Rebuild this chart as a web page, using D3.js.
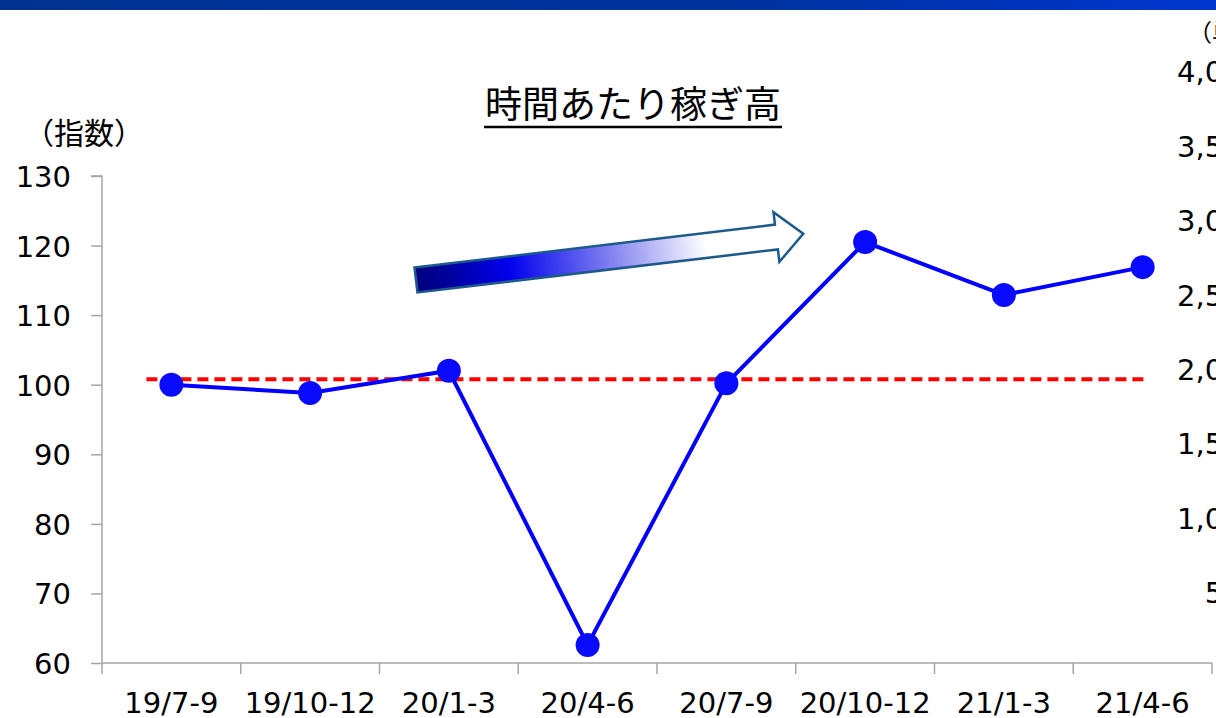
<html>
  <script src='https://d3js.org/d3.v7.min.js'></script>
  <style>
    body {margin: 0; background: white;}
    svg {display: block;}
    .tick text {font-family: 'DejaVu Sans', Verdana, sans-serif;}
  </style>
  <body>
    <svg class="chart" width=1216 height=718></svg>
    <script>
      // data
      var categories = ["19/7-9","19/10-12","20/1-3","20/4-6","20/7-9","20/10-12","21/1-3","21/4-6"];
      var indexValues = [100.0, 98.8, 102.0, 62.6, 100.2, 120.5, 112.9, 116.9];
      var baseline = 100.8;
      var leftTicks = [60,70,80,90,100,110,120,130];
      var rightTicks = [500,1000,1500,2000,2500,3000,3500,4000];
      var title = "時間あたり稼ぎ高";
      var leftUnit = "（指数）";
      var rightUnit = "（単位：百万円）";

      var W = 1216, H = 718;
      var svg = d3.select('.chart');
      var defs = svg.append("defs");

      // top banner
      var bar = defs.append("linearGradient").attr("id","bar").attr("x1","0").attr("x2","1");
      bar.append("stop").attr("offset","0").attr("stop-color","#003391");
      bar.append("stop").attr("offset","0.6").attr("stop-color","#00339e");
      bar.append("stop").attr("offset","1").attr("stop-color","#0035cf");
      svg.append("rect").attr("x",0).attr("y",0).attr("width",W).attr("height",10).attr("fill","url(#bar)");

      var x = d3.scaleBand().domain(categories).range([102,1212]).padding(0);
      var y = d3.scaleLinear().domain([60,130]).range([663,176]);
      var y2 = d3.scaleLinear().domain([0,4000]).range([667,72]);

      // left axis
      var yAxis = d3.axisLeft(y).tickValues(leftTicks).tickSize(11).tickPadding(20);
      var gy = svg.append("g").attr("transform","translate(102,0)").call(yAxis);
      gy.selectAll("path, line").attr("stroke","#a6a6a6").attr("stroke-width",1.5);
      gy.select(".domain").attr("d","M-11,176H0V663");
      gy.selectAll("text").attr("font-size",29).attr("fill","#000").attr("dy","0.36em");

      // x axis
      var xAxis = d3.axisBottom(x).tickSize(0).tickPadding(29);
      var gx = svg.append("g").attr("transform","translate(0,663)").call(xAxis);
      gx.select(".domain").attr("stroke","#a6a6a6").attr("stroke-width",1.5).attr("d","M102,0H1212");
      gx.selectAll("text").attr("font-size",29).attr("fill","#000");
      var edges = categories.map(function(c){return x(c);}).concat([x.range()[1]]);
      svg.append("g").selectAll("line").data(edges).enter().append("line")
        .attr("x1",function(d){return d;}).attr("x2",function(d){return d;})
        .attr("y1",663).attr("y2",674)
        .attr("stroke","#a6a6a6").attr("stroke-width",1.5);

      // right axis (labels only, cut by the frame)
      var gr = svg.append("g");
      gr.selectAll("text").data(rightTicks).enter().append("text")
        .attr("x",1260).attr("y",function(d){return y2(d);}).attr("dy","0.36em")
        .attr("text-anchor","end").attr("font-family","'DejaVu Sans', Verdana, sans-serif")
        .attr("font-size",29).attr("fill","#000")
        .text(function(d){return d3.format(",")(d);});
      svg.append("text").attr("x",1188).attr("y",41)
        .attr("font-family","'Noto Sans CJK JP', sans-serif").attr("font-size",24).attr("fill","#000")
        .text(rightUnit);

      // unit label and title
      svg.append("text").attr("x",24).attr("y",144)
        .attr("font-family","'Noto Sans CJK JP', sans-serif").attr("font-size",30).attr("fill","#000")
        .text(leftUnit);
      svg.append("text").attr("x",633).attr("y",118).attr("text-anchor","middle")
        .attr("font-family","'Noto Sans CJK JP', sans-serif").attr("font-size",37).attr("fill","#000")
        .text(title);
      svg.append("line").attr("x1",484).attr("x2",782).attr("y1",127).attr("y2",127)
        .attr("stroke","#000").attr("stroke-width",2.5);

      // red reference line
      var bw = x.bandwidth();
      svg.append("line")
        .attr("x1",x(categories[0])+bw*0.32).attr("x2",x(categories[categories.length-1])+bw*0.52)
        .attr("y1",y(baseline)).attr("y2",y(baseline))
        .attr("stroke","#ff0000").attr("stroke-width",4).attr("stroke-dasharray","11,6");

      // arrow annotation
      var L = 390;
      var ag = defs.append("linearGradient").attr("id","arrowfill")
        .attr("gradientUnits","userSpaceOnUse").attr("x1",0).attr("x2",L).attr("y1",0).attr("y2",0);
      ag.append("stop").attr("offset","0").attr("stop-color","#000080");
      ag.append("stop").attr("offset","0.08").attr("stop-color","#00009a");
      ag.append("stop").attr("offset","0.24").attr("stop-color","#0000ee");
      ag.append("stop").attr("offset","0.5").attr("stop-color","#8080f0");
      ag.append("stop").attr("offset","0.75").attr("stop-color","#ffffff");
      ag.append("stop").attr("offset","1").attr("stop-color","#ffffff");
      var hl = 27;
      svg.append("path")
        .attr("transform","translate(416,280) rotate(-6.8)")
        .attr("d","M0,-12.5H"+(L-hl)+"V-25L"+L+",0L"+(L-hl)+",25V12.5H0Z")
        .attr("fill","url(#arrowfill)").attr("stroke","#1c5a8c").attr("stroke-width",2.5)
        .attr("stroke-linejoin","miter");

      // series
      var pts = categories.map(function(c,i){return [x(c)+bw/2, y(indexValues[i])];});
      svg.append("path").attr("d",d3.line()(pts))
        .attr("fill","none").attr("stroke","#0000ff").attr("stroke-width",4);
      svg.append("g").selectAll("circle").data(pts).enter().append("circle")
        .attr("cx",function(d){return d[0];}).attr("cy",function(d){return d[1];})
        .attr("r",12).attr("fill","#0a0aff");
    </script>
  </body>
</html>
